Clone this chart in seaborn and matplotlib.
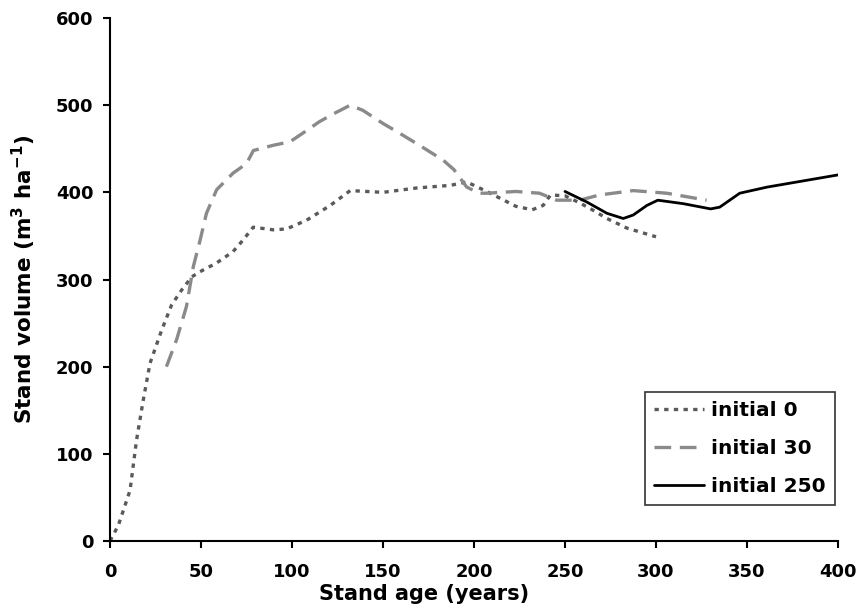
import matplotlib
matplotlib.use("Agg")
import matplotlib.pyplot as plt
import seaborn as sns
import pandas as pd

# initial 0 (dotted)
age0 = [0, 4.6, 11, 14.6, 18.3, 22, 28.4, 33.9, 39.4, 44.9, 49.5, 58.6, 67.6, 73, 78.7, 89.7, 97,
        108, 121, 132, 150, 168.5, 187, 196, 207, 223, 232, 238, 242, 250, 258, 265, 273, 284, 300]
vol0 = [0, 18, 58, 116, 162, 204, 242, 271, 288, 303, 309, 319, 332, 345, 360, 357, 358,
        368, 385, 402, 400, 405, 408, 412, 401, 384, 380, 385, 397, 396, 388, 380, 370, 359, 349]

# initial 30 (dashed)
age30 = [31, 36.6, 42, 45.8, 49.5, 53, 58.6, 67.6, 75, 78.8, 89.7, 98.9, 106, 115, 122.7, 132,
         139, 150, 159, 170, 183, 189, 196, 203, 207, 223, 236, 245.4, 258, 269, 287.5, 305.9, 327.8]
vol30 = [200, 231, 269, 315, 345, 376, 403, 422, 433, 448, 454, 458, 468, 481, 490, 500,
         494, 479, 468, 454, 437, 426, 406, 399, 399, 401, 399, 391, 391, 397, 402, 399, 391]

# initial 250 (solid)
age250 = [250, 261.9, 273, 282, 287.5, 295, 301, 315, 330, 335, 346, 361, 400]
vol250 = [401, 389, 376, 370, 374, 385, 391, 387, 381, 383, 399, 406, 420]

labels = ["initial 0", "initial 30", "initial 250"]

sns.set_style("white")
plt.rcParams["font.family"] = ["DejaVu Sans"]
plt.rcParams["font.weight"] = "bold"
plt.rcParams["mathtext.fontset"] = "dejavusans"
plt.rcParams["mathtext.default"] = "bf"
for k in ["text.color", "axes.labelcolor", "xtick.color", "ytick.color"]:
    plt.rcParams[k] = "black"

fig = plt.figure(figsize=(8.58, 6.09), dpi=100)
ax = fig.add_axes([0.1282, 0.1117, 0.8485, 0.8587])

df0 = pd.DataFrame({"age": age0, "vol": vol0})
df30 = pd.DataFrame({"age": age30, "vol": vol30})
df250 = pd.DataFrame({"age": age250, "vol": vol250})

sns.lineplot(data=df0, x="age", y="vol", ax=ax, color="#5a5a5a", lw=2.4,
             label=labels[0], sort=False, estimator=None)
ax.lines[-1].set_dashes((1.3, 1.6))
sns.lineplot(data=df30, x="age", y="vol", ax=ax, color="#8a8a8a", lw=2.4,
             label=labels[1], sort=False, estimator=None)
ax.lines[-1].set_dashes((5, 2.6))
sns.lineplot(data=df250, x="age", y="vol", ax=ax, color="black", lw=2.0,
             label=labels[2], sort=False, estimator=None)

ax.set_xlim(0, 400)
ax.set_ylim(0, 600)
ax.set_xticks(range(0, 401, 50))
ax.set_yticks(range(0, 601, 100))
for s in ["top", "right"]:
    ax.spines[s].set_visible(False)
for s in ["left", "bottom"]:
    ax.spines[s].set_color("black")
    ax.spines[s].set_linewidth(1.5)
ax.tick_params(axis="both", direction="out", length=5, width=1.5, color="black",
               labelcolor="black", labelsize=13, bottom=True, left=True)
ax.tick_params(axis="x", pad=11)
ax.tick_params(axis="y", pad=7)
for t in ax.get_xticklabels() + ax.get_yticklabels():
    t.set_fontweight("bold")

ax.set_xlabel("Stand age (years)", fontsize=15, fontweight="bold", color="black")
ax.xaxis.set_label_coords(0.431, -0.083)
ax.set_ylabel("Stand volume (m$^{3}$ ha$^{-1}$)", fontsize=15.5, fontweight="bold",
              labelpad=13, color="black")

leg = ax.legend(loc="lower right", bbox_to_anchor=(0.996, 0.069), borderaxespad=0,
                frameon=True, fancybox=False, edgecolor="black", handlelength=2.5,
                handletextpad=0.35, borderpad=0.45, labelspacing=0.93,
                prop={"size": 14.5, "weight": "bold"})
leg.get_frame().set_linewidth(1.2)
for t in leg.get_texts():
    t.set_color("black")

fig.savefig("out.png", dpi=100)
